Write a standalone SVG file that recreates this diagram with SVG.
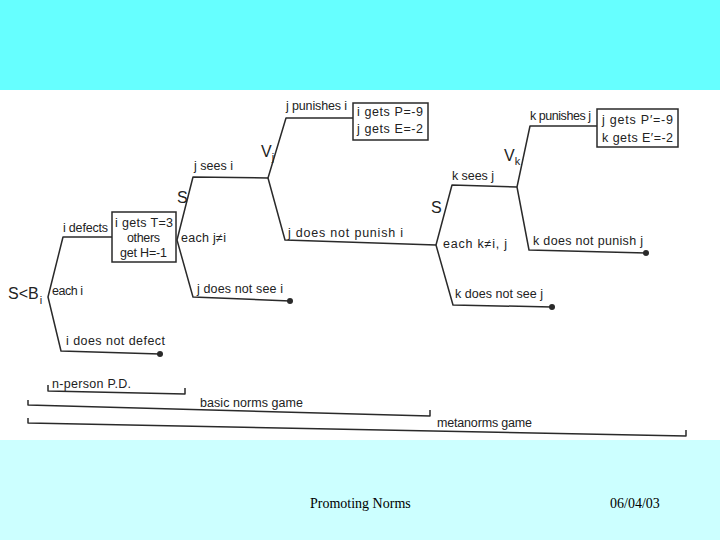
<svg xmlns="http://www.w3.org/2000/svg" width="720" height="540" viewBox="0 0 720 540">
<style>
.t{font-family:"Liberation Sans",Arial,sans-serif;font-size:12.5px;fill:#222}
.big{font-family:"Liberation Sans",Arial,sans-serif;font-size:16px;fill:#222}
.sub{font-size:11px;fill:#222}
.ln{fill:none;stroke:#2a2a2a;stroke-width:1.5;stroke-linejoin:round}
.box{fill:#fff;stroke:#2a2a2a;stroke-width:1.5}
.dot{fill:#2a2a2a}
.ft{font-family:"Liberation Serif","Times New Roman",serif;font-size:14px;fill:#000}
</style>
<rect x="0" y="0" width="720" height="90" fill="#66ffff"/>
<rect x="0" y="90" width="720" height="350" fill="#ffffff"/>
<rect x="0" y="440" width="720" height="100" fill="#ccffff"/>

<g id="connectors">
<path class="ln" d="M112,237 L63,237 L48,297 L61,351 L160,354"/>
<path class="ln" d="M268,178 L193,177 L177,240 L193,297 L290,301"/>
<path class="ln" d="M353,118 L286,118 L268,178 L285,240 L436,245"/>
<path class="ln" d="M517,187 L452,185 L436,245 L453,305 L552,307"/>
<path class="ln" d="M597,126 L530,126 L517,187 L529,250 L646,253"/>
</g>

<g id="root">
<text class="big" x="8" y="299" font-size="14.5">S&lt;B<tspan class="sub" dx="1" dy="5">i</tspan></text>
<text class="t" x="52" y="295" textLength="31">each i</text>
<text class="t" x="63" y="232" textLength="45">i defects</text>
<text class="t" x="66" y="345" textLength="99">i does not defect</text>
</g>
<g id="box-defect">
<rect class="box" x="112" y="212" width="64" height="50"/>
<text class="t" x="115" y="227" textLength="58">i gets T=3</text>
<text class="t" x="127" y="242" textLength="33">others</text>
<text class="t" x="120" y="257" textLength="47">get H=-1</text>
</g>
<g id="node-s1">
<text class="big" x="177" y="203">S</text>
<text class="t" x="181" y="242" textLength="45">each j≠i</text>
<text class="t" x="194" y="170" textLength="39">j sees i</text>
<text class="t" x="197" y="293" textLength="86">j does not see i</text>
</g>
<g id="node-vj">
<text class="big" x="261" y="157">V<tspan class="sub" dy="4">j</tspan></text>
<text class="t" x="286" y="110" textLength="61">j punishes i</text>
<text class="t" x="288" y="237" textLength="115">j does not punish i</text>
</g>
<g id="box-punish">
<rect class="box" x="353" y="103" width="75" height="37"/>
<text class="t" x="357" y="116" textLength="66">i gets P=-9</text>
<text class="t" x="357" y="133" textLength="66">j gets E=-2</text>
</g>
<g id="node-s2">
<text class="big" x="431" y="213">S</text>
<text class="t" x="443" y="248" textLength="64">each  k≠i, j</text>
<text class="t" x="452" y="180" textLength="42">k sees j</text>
<text class="t" x="455" y="298" textLength="88">k does not see j</text>
</g>
<g id="node-vk">
<text class="big" x="504" y="161">V<tspan class="sub" dy="4">k</tspan></text>
<text class="t" x="530" y="120" textLength="61">k punishes j</text>
<text class="t" x="533" y="245" textLength="110">k does not punish j</text>
</g>
<g id="box-metapunish">
<rect class="box" x="597" y="109" width="81" height="38"/>
<text class="t" x="602" y="124" textLength="71">j gets  P′=-9</text>
<text class="t" x="602" y="142" textLength="71">k gets  E′=-2</text>
</g>
<g id="leaves">
<circle class="dot" cx="160" cy="354" r="3"/>
<circle class="dot" cx="290" cy="301" r="3"/>
<circle class="dot" cx="646" cy="253" r="3"/>
<circle class="dot" cx="552" cy="307" r="3"/>
</g>
<g id="brackets">
<path class="ln" d="M48,385 L48,391 L185,394 L185,388"/>
<text class="t" x="52" y="388" textLength="79">n-person P.D.</text>
<path class="ln" d="M28,400 L28,405 L430,416 L430,410"/>
<text class="t" x="200" y="407" textLength="103">basic norms game</text>
<path class="ln" d="M28,418 L28,423 L686,436 L686,430"/>
<text class="t" x="437" y="427" textLength="95">metanorms  game</text>
</g>
<g id="footer">
<text class="ft" x="310" y="508">Promoting Norms</text>
<text class="ft" x="610" y="508">06/04/03</text>
</g>
</svg>
